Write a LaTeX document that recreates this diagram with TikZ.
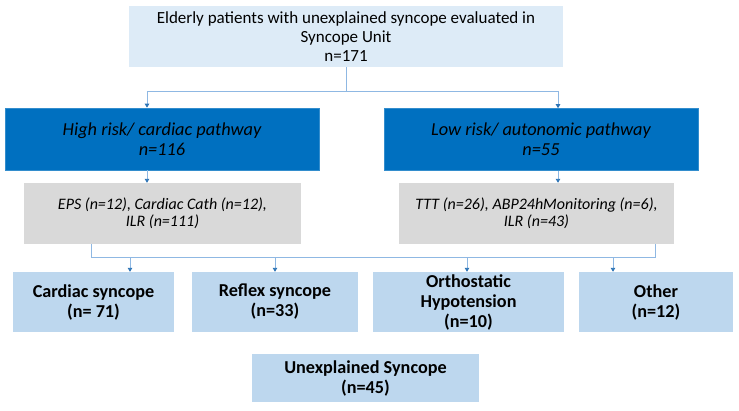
\documentclass[tikz,border=0pt]{standalone}
\usepackage{fontspec}
\setmainfont{Carlito}
\usetikzlibrary{arrows.meta}
\definecolor{topfill}{HTML}{DDEBF7}
\definecolor{darkfill}{HTML}{0070C0}
\definecolor{greyfill}{HTML}{D9D9D9}
\definecolor{resfill}{HTML}{BDD7EE}
\definecolor{linkline}{HTML}{8FB8E3}
\definecolor{tipblue}{HTML}{2E75B6}
\tikzset{
  box/.style={inner sep=0pt, align=center, anchor=center},
  topbox/.style={box, fill=topfill, font=\fontsize{17}{18.6}\selectfont},
  pathbox/.style={box, fill=darkfill, draw=darkfill!80!white, line width=0.6pt,
    font=\fontsize{18.3}{20}\selectfont\itshape, minimum width=314, minimum height=62},
  testbox/.style={box, fill=greyfill, font=\fontsize{16}{17.5}\selectfont\itshape,
    minimum height=61},
  resbox/.style={box, fill=resfill, font=\fontsize{18.2}{20}\selectfont\bfseries,
    minimum height=60},
  link/.style={draw=linkline, line width=0.9pt},
  arr/.style={link, -{Triangle[length=4pt,width=4.5pt,color=tipblue]}}
}
\begin{document}
\begin{tikzpicture}[x=1pt,y=-1pt]
\useasboundingbox (0,0) rectangle (739,410);

% boxes
\node[topbox, minimum width=434, minimum height=61] (top) at (346,36.5)
  {Elderly patients with unexplained syncope evaluated in\\Syncope Unit\\n=171};
\node[pathbox] (high) at (162,139) {High risk/ cardiac pathway\\n=116};
\node[pathbox] (low) at (541,139.5) {Low risk/ autonomic pathway\\n=55};
\node[testbox, minimum width=277] (testl) at (162.5,213.5)
  {EPS (n=12), Cardiac Cath (n=12),\\ILR (n=111)};
\node[testbox, minimum width=275] (testr) at (536.5,213.5)
  {TTT (n=26), ABP24hMonitoring (n=6),\\ILR (n=43)};
\node[resbox, minimum width=161] (card) at (93.5,302) {Cardiac syncope\\(n= 71)};
\node[resbox, minimum width=166] (refl) at (275,302) {Reflex syncope\\(n=33)};
\node[resbox, minimum width=191] (orth) at (468.5,302) {Orthostatic\\Hypotension\\(n=10)};
\node[resbox, minimum width=154] (oth) at (656,302) {Other\\(n=12)};
\node[resbox, minimum width=227, minimum height=48] (unex) at (365.5,378)
  {Unexplained Syncope\\(n=45)};

% split below the first box
\coordinate (sl) at (147,91);
\coordinate (sr) at (558,91);
\draw[link] (top.south) -- (top.south |- sl);
\draw[link] (sl) -- (sr);
\draw[arr] (sl) -- (sl |- high.north);
\draw[arr] (sr) -- (sr |- low.north);
\draw[arr] (sl |- high.south) -- (sl |- testl.north);
\draw[arr] (sr |- low.south) -- (sr |- testr.north);

% bus to the diagnoses
\coordinate (bl) at (91,257);
\coordinate (br) at (655,257);
\draw[link] (bl |- testl.south) -- (bl) -- (br) -- (br |- testr.south);
\coordinate (d1) at (130,257);
\coordinate (d2) at (275,257);
\coordinate (d3) at (467,257);
\coordinate (d4) at (613,257);
\draw[arr] (d1) -- (d1 |- card.north);
\draw[arr] (d2) -- (d2 |- refl.north);
\draw[arr] (d3) -- (d3 |- orth.north);
\draw[arr] (d4) -- (d4 |- oth.north);
\end{tikzpicture}
\end{document}
